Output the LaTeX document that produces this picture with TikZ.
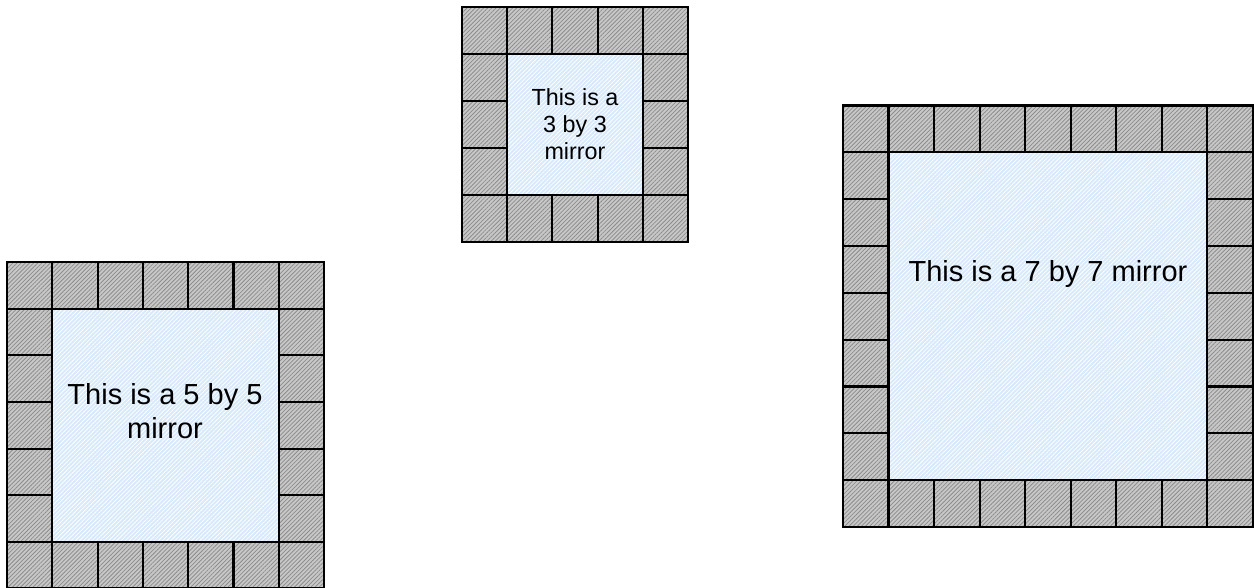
\documentclass[tikz,border=0pt]{standalone}
\usepackage{fontspec}
\setmainfont{Liberation Sans}
\usetikzlibrary{patterns.meta}
\definecolor{cellgray}{RGB}{200,200,200}
\definecolor{hatchgray}{RGB}{140,140,140}
\definecolor{glassblue}{RGB}{215,233,252}
\tikzset{
  cellfill/.style={fill=cellgray, postaction={pattern={Lines[angle=45,distance=2.2pt,line width=0.6pt]}, pattern color=hatchgray}},
  cellline/.style={draw=black, line width=1.6pt},
  glass/.style={fill=glassblue, postaction={pattern={Lines[angle=45,distance=2.2pt,line width=0.6pt]}, pattern color=white}},
  bigtext/.style={align=center, text=black, font=\fontsize{21.75}{25.5}\selectfont},
  smalltext/.style={align=center, text=black, font=\fontsize{17.5}{20}\selectfont},
}
\newcommand\drawmirror[5]{%
  \pgfmathtruncatemacro\mlast{#3-1}%
  \fill[glass] ({#1+#4},{#2+#5}) rectangle ({#1+(#3-1)*#4},{#2+(#3-1)*#5});
  \foreach \i in {0,...,\mlast}{
    \foreach \j in {0,...,\mlast}{
      \pgfmathtruncatemacro\onring{(\i==0)||(\j==0)||(\i==\mlast)||(\j==\mlast)}
      \ifnum\onring=1
        \fill[cellfill] ({#1+\i*#4},{#2+\j*#5}) rectangle ({#1+(\i+1)*#4},{#2+(\j+1)*#5});
      \fi
    }
  }
  \foreach \i in {0,...,\mlast}{
    \foreach \j in {0,...,\mlast}{
      \pgfmathtruncatemacro\onring{(\i==0)||(\j==0)||(\i==\mlast)||(\j==\mlast)}
      \ifnum\onring=1
        \draw[cellline] ({#1+\i*#4},{#2+\j*#5}) rectangle ({#1+(\i+1)*#4},{#2+(\j+1)*#5});
      \fi
    }
  }
}
\begin{document}
\begin{tikzpicture}[x=0.75pt,y=-0.75pt]
\useasboundingbox (0,0) rectangle (1254,587);
% 3 by 3 mirror
\drawmirror{462}{7}{5}{45.2}{47}
\node[smalltext] (t3) at (575,124) {This is a\\3 by 3\\mirror};
% 5 by 5 mirror
\drawmirror{7}{262}{7}{45.3}{46.65}
\node[bigtext] (t5) at (165,411) {This is a 5 by 5\\mirror};
% 7 by 7 mirror
\drawmirror{843}{105.5}{9}{45.55}{46.83}
\node[bigtext] (t7) at (1048,274) {This is a 7 by 7 mirror};
\end{tikzpicture}
\end{document}
